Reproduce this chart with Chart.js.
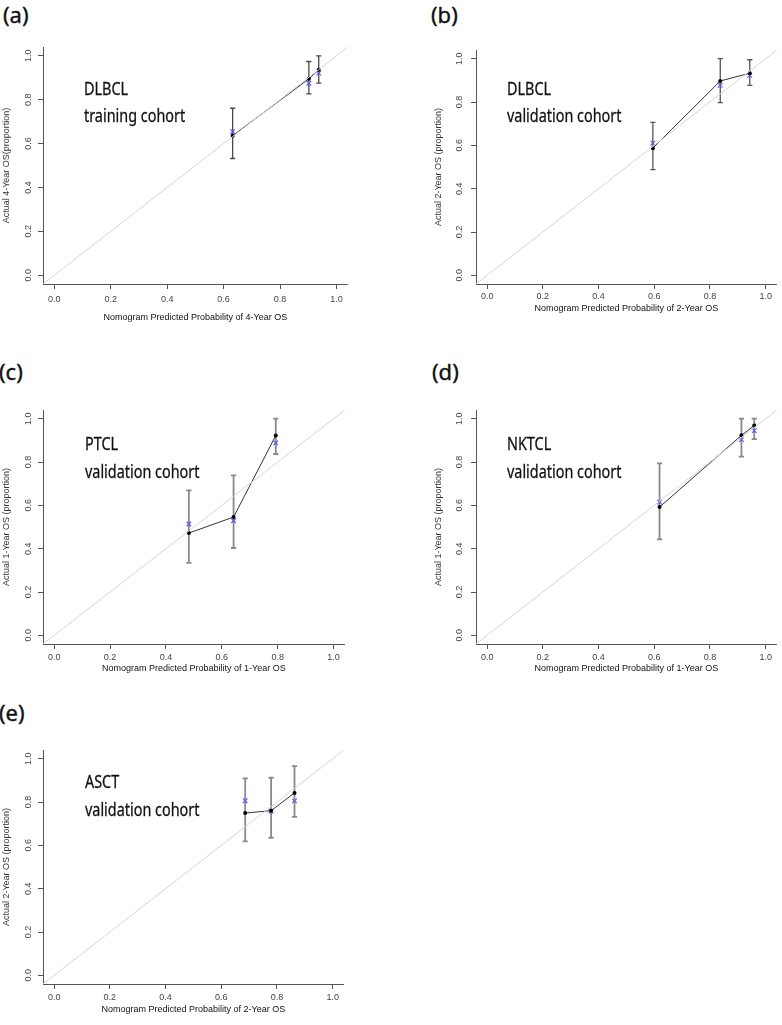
<!DOCTYPE html>
<html>
<head>
<meta charset="utf-8">
<script src="https://cdn.jsdelivr.net/npm/chart.js@4.4.1/dist/chart.umd.min.js"></script>
<style>
  html, body { margin: 0; padding: 0; background: #fff; width: 782px; height: 1025px; overflow: hidden; }
  .tag { position: absolute; font-family: "Noto Sans"; font-size: 22px; line-height: 22px; color: #111; white-space: nowrap; -webkit-text-stroke: 0.35px #111; }
  .note { position: absolute; font-family: "Noto Sans"; font-size: 18px; line-height: 18px; color: #111; white-space: nowrap; transform: scaleX(0.8); transform-origin: left top; -webkit-text-stroke: 0.3px #111; }
</style>
</head>
<body>
<script>
// axis ticks shared by every panel
const tickVals = [0, 0.2, 0.4, 0.6, 0.8, 1.0]
const tickLabels = ['0.0', '0.2', '0.4', '0.6', '0.8', '1.0']
const axisMin = -0.04
const axisMax = 1.04

// (a) DLBCL training cohort, 4-year OS
const predA = [0.632, 0.902, 0.937]
const obsA = [0.636, 0.895, 0.936]
const corA = [0.654, 0.875, 0.921]
const lowA = [0.532, 0.826, 0.875]
const uppA = [0.761, 0.974, 1.000]

// (b) DLBCL validation cohort, 2-year OS
const predB = [0.595, 0.837, 0.943]
const obsB = [0.587, 0.897, 0.933]
const corB = [0.610, 0.877, 0.923]
const lowB = [0.488, 0.797, 0.877]
const uppB = [0.706, 1.000, 0.995]

// (c) PTCL validation cohort, 1-year OS
const predC = [0.482, 0.642, 0.793]
const obsC = [0.472, 0.546, 0.922]
const corC = [0.514, 0.529, 0.888]
const lowC = [0.334, 0.403, 0.837]
const uppC = [0.669, 0.738, 1.000]

// (d) NKTCL validation cohort, 1-year OS
const predD = [0.619, 0.913, 0.959]
const obsD = [0.592, 0.923, 0.968]
const corD = [0.615, 0.903, 0.945]
const lowD = [0.443, 0.825, 0.906]
const uppD = [0.794, 1.000, 1.000]

// (e) ASCT validation cohort, 2-year OS
const predE = [0.686, 0.779, 0.863]
const obsE = [0.749, 0.760, 0.842]
const corE = [0.806, 0.758, 0.805]
const lowE = [0.618, 0.635, 0.731]
const uppE = [0.909, 0.912, 0.966]

const panels = [
  { tag: '(a)', note: ['DLBCL', 'training cohort'], yTitle: 'Actual 4-Year OS(proportion)', xTitle: 'Nomogram Predicted Probability of 4-Year OS',
    pred: predA, obs: obsA, cor: corA, low: lowA, upp: uppA,
    ox: 0, area: [43, 352, 47, 284], xTitleY: 318, tickPad: 5.6, yTitleX: 7, yGap: 14.5, tagPos: [3, 3], notePos: [83.7, 79, 106.3], barColor: '#4a4a4a', barWidth: 1.3 },
  { tag: '(b)', note: ['DLBCL', 'validation cohort'], yTitle: 'Actual 2-Year OS (proportion)', xTitle: 'Nomogram Predicted Probability of 2-Year OS',
    pred: predB, obs: obsB, cor: corB, low: lowB, upp: uppB,
    ox: 430, area: [476, 781, 50, 284], xTitleY: 308.3, tickPad: 2.6, yTitleX: 439, yGap: 16, tagPos: [431, 3], notePos: [507, 79, 106.3], barColor: '#555', barWidth: 1.3 },
  { tag: '(c)', note: ['PTCL', 'validation cohort'], yTitle: 'Actual 1-Year OS (proportion)', xTitle: 'Nomogram Predicted Probability of 1-Year OS',
    pred: predC, obs: obsC, cor: corC, low: lowC, upp: uppC,
    ox: 0, area: [43, 349, 410, 644], xTitleY: 669, tickPad: 3, yTitleX: 7, yGap: 14.5, tagPos: [-1, 360], notePos: [84.5, 433.6, 462], barColor: '#8a8a8a', barWidth: 1.8 },
  { tag: '(d)', note: ['NKTCL', 'validation cohort'], yTitle: 'Actual 1-Year OS (proportion)', xTitle: 'Nomogram Predicted Probability of 1-Year OS',
    pred: predD, obs: obsD, cor: corD, low: lowD, upp: uppD,
    ox: 430, area: [476, 781, 410, 644], xTitleY: 669, tickPad: 3, yTitleX: 439, yGap: 16, tagPos: [432, 360], notePos: [507, 433.6, 462], barColor: '#8a8a8a', barWidth: 1.8 },
  { tag: '(e)', note: ['ASCT', 'validation cohort'], yTitle: 'Actual 2-Year OS (proportion)', xTitle: 'Nomogram Predicted Probability of 2-Year OS',
    pred: predE, obs: obsE, cor: corE, low: lowE, upp: uppE,
    ox: 0, area: [43, 348, 750, 984], xTitleY: 1009.3, tickPad: 3.6, yTitleX: 7, yGap: 14.5, tagPos: [-1, 701], notePos: [84.5, 772, 799.5], barColor: '#8a8a8a', barWidth: 1.8 }
]

var add_text = (cls, text, left, top) => {
  let d = document.createElement('div')
  d.className = cls
  d.textContent = text
  d.style.left = left + 'px'
  d.style.top = top + 'px'
  document.body.appendChild(d)
}

var build_panel = (p) => {

  const oy = p.area[2] - 12
  const H = Math.ceil(p.xTitleY + 6 - oy)
  const W = p.area[1] + 1 - p.ox
  const xTitleBottom = (oy + H) - p.xTitleY - 5.4

  const cv = document.createElement('canvas')
  cv.width = W
  cv.height = H
  cv.style.cssText = `position:absolute;left:${p.ox}px;top:${oy}px;width:${W}px;height:${H}px`
  document.body.appendChild(cv)

  // error bars under the points, from the lower / upper arrays
  const errorBars = {
    id: 'errorBars',
    beforeDatasetsDraw(chart) {
      const {ctx, scales: {x, y}} = chart
      ctx.save()
      ctx.strokeStyle = p.barColor
      ctx.lineWidth = p.barWidth
      p.pred.forEach((v, i) => {
        let px = x.getPixelForValue(v)
        let y1 = y.getPixelForValue(p.low[i])
        let y2 = y.getPixelForValue(p.upp[i])
        ctx.beginPath()
        ctx.moveTo(px, y1); ctx.lineTo(px, y2)
        ctx.moveTo(px - 2.6, y1); ctx.lineTo(px + 2.6, y1)
        ctx.moveTo(px - 2.6, y2); ctx.lineTo(px + 2.6, y2)
        ctx.stroke()
      })
      ctx.restore()
    }
  }

  // R style vertical labels on the y axis
  const yTicks = {
    id: 'yTicks',
    afterDraw(chart) {
      const {ctx, chartArea, scales: {y}} = chart
      ctx.save()
      ctx.font = '9px "Liberation Sans"'
      ctx.fillStyle = '#444'
      ctx.textAlign = 'center'
      ctx.textBaseline = 'middle'
      tickVals.forEach((v, i) => {
        ctx.save()
        ctx.translate(chartArea.left - p.yGap, y.getPixelForValue(v))
        ctx.rotate(-Math.PI / 2)
        ctx.fillText(tickLabels[i], 0, 0)
        ctx.restore()
      })
      ctx.restore()
    }
  }

  const axisBase = {
    type: 'linear',
    min: axisMin,
    max: axisMax,
    afterBuildTicks: (s) => { s.ticks = tickVals.map(v => ({value: v})) },
    grid: { display: true, drawOnChartArea: false, drawTicks: true, tickLength: 5, color: '#555', lineWidth: 1 },
    border: { display: true, color: '#555', width: 1 }
  }

  new Chart(cv.getContext('2d'), {
    type: 'scatter',
    data: {
      datasets: [
        { data: [{x: axisMin, y: axisMin}, {x: axisMax, y: axisMax}], showLine: true, borderColor: '#d6d6d6', borderWidth: 1, pointRadius: 0 },
        { data: p.pred.map((x, i) => ({x: x, y: p.obs[i]})), showLine: true, borderColor: '#333', borderWidth: 1,
          pointRadius: 2, pointBackgroundColor: '#000', pointBorderWidth: 0 },
        { data: p.pred.map((x, i) => ({x: x, y: p.cor[i]})), showLine: false, pointStyle: 'crossRot',
          pointRadius: 3.2, borderColor: '#5a5af0', borderWidth: 1.2 }
      ]
    },
    options: {
      responsive: false,
      animation: false,
      layout: { padding: { left: 0, top: p.area[2] - oy, right: W - (p.area[1] - p.ox), bottom: 0 } },
      plugins: { legend: { display: false }, tooltip: { enabled: false } },
      scales: {
        x: Object.assign({}, axisBase, {
          afterFit: (s) => { s.height = H - (p.area[3] - oy) },
          ticks: { padding: p.tickPad, color: '#444', font: { family: 'Liberation Sans', size: 9 },
            callback: (v, i) => tickLabels[i] },
          title: { display: true, text: p.xTitle, color: '#111', font: { family: 'Liberation Sans', size: 9 },
            padding: { top: 0, bottom: xTitleBottom } }
        }),
        y: Object.assign({}, axisBase, {
          afterFit: (s) => { s.width = p.area[0] - p.ox },
          ticks: { display: false },
          title: { display: true, text: p.yTitle, color: '#333', font: { family: 'Liberation Sans', size: 9 },
            padding: { top: p.yTitleX - p.ox - 5.4, bottom: 0 } }
        })
      }
    },
    plugins: [errorBars, yTicks]
  })

  add_text('tag', p.tag, p.tagPos[0], p.tagPos[1])
  add_text('note', p.note[0], p.notePos[0], p.notePos[1])
  add_text('note', p.note[1], p.notePos[0], p.notePos[2])
}

panels.forEach(build_panel)
</script>
</body>
</html>
